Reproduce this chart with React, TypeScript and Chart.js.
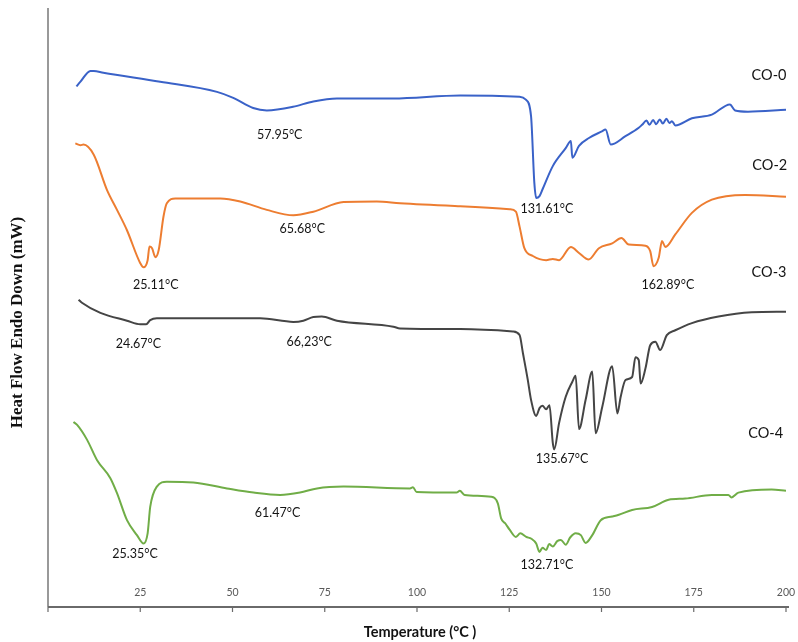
import React, { useEffect, useRef } from "react";
import { Chart, registerables } from "chart.js";

Chart.register(...registerables);

// Temperature (°C) / heat flow (arbitrary offset units)
const co0T = [7.7, 8.8, 11.5, 12.4, 15.0, 30.4, 45.8, 50.2, 55.6, 59.3, 66.4, 71.9, 78.3, 93.5, 111.7, 127.8, 129.5, 130.9, 131.8, 132.3, 133.2, 134.0, 136.8, 140.3, 141.7, 142.1, 143.9, 146.6, 150.1, 151.1, 152.5, 156.5, 160.1, 161.0, 162.2, 163.0, 164.0, 164.8, 165.8, 166.6, 167.6, 168.4, 169.1, 170.0, 174.5, 179.9, 184.8, 186.2, 189.7, 200];
const co0V = [86.9, 87.7, 89.5, 89.5, 89.2, 87.7, 86.0, 85.0, 83.3, 82.9, 83.5, 84.4, 84.9, 84.9, 85.4, 85.2, 84.7, 82.0, 70.8, 68.3, 68.6, 69.7, 73.6, 76.6, 77.8, 75.0, 77.0, 78.3, 79.4, 79.7, 77.2, 78.6, 80.0, 80.5, 81.2, 80.5, 81.3, 80.6, 81.4, 80.7, 81.5, 80.8, 81.1, 80.4, 81.6, 82.2, 83.9, 82.9, 82.7, 83.0];

const co2T = [7.4, 8.8, 9.6, 12.4, 16.0, 18.7, 21.4, 25.0, 25.9, 27.0, 27.5, 28.2, 29.1, 30.0, 31.3, 32.2, 34.5, 46.7, 52.1, 59.3, 66.5, 71.9, 80.1, 89.1, 95.4, 111.7, 125.1, 126.8, 127.8, 129.1, 131.4, 135.0, 136.8, 138.5, 141.7, 143.9, 146.5, 149.3, 152.9, 155.4, 157.4, 161.9, 163.2, 164.1, 165.5, 166.4, 167.3, 170.0, 174.5, 179.9, 188.9, 200];
const co2V = [77.4, 77.1, 77.2, 75.5, 69.6, 66.3, 62.9, 57.4, 56.7, 57.9, 60.2, 59.9, 58.4, 59.6, 65.2, 67.4, 68.2, 68.2, 67.7, 66.3, 65.4, 66.0, 67.6, 67.7, 67.4, 66.9, 66.4, 66.0, 63.5, 59.9, 58.6, 57.9, 58.1, 57.9, 60.1, 59.1, 58.0, 59.9, 60.7, 61.6, 60.5, 60.3, 59.4, 56.9, 58.3, 61.1, 60.1, 62.2, 65.8, 68.0, 68.8, 68.5];

const co3T = [8.3, 9.2, 14.2, 21.4, 25.0, 26.6, 27.7, 29.5, 57.5, 66.5, 69.2, 71.9, 74.2, 78.3, 93.6, 95.4, 111.7, 126.0, 127.8, 128.7, 130.0, 130.9, 132.3, 133.2, 134.0, 135.0, 135.9, 136.8, 137.2, 138.5, 140.3, 142.1, 143.0, 143.9, 145.7, 147.5, 148.4, 150.2, 152.9, 154.3, 155.2, 156.5, 158.3, 159.2, 160.1, 160.6, 161.9, 163.2, 164.6, 165.9, 167.7, 170.0, 174.5, 181.7, 190.7, 200];
const co3V = [51.3, 50.8, 49.1, 47.8, 47.2, 47.2, 47.9, 48.2, 48.2, 47.6, 47.8, 48.4, 48.5, 47.8, 46.8, 46.5, 46.4, 46.0, 45.4, 42.4, 38.0, 34.6, 31.9, 33.2, 33.6, 33.0, 33.7, 27.4, 26.3, 30.7, 35.1, 37.6, 38.6, 29.7, 34.6, 39.3, 29.0, 33.4, 40.2, 32.3, 35.1, 37.9, 38.4, 41.7, 41.2, 37.3, 39.8, 43.7, 44.3, 42.9, 45.4, 46.2, 47.4, 48.5, 49.2, 49.3];

const co4T = [6.9, 7.9, 10.6, 13.3, 16.9, 18.7, 21.4, 24.1, 25.9, 27.0, 27.7, 29.5, 32.2, 39.4, 48.5, 55.7, 62.9, 68.3, 72.9, 80.1, 98.1, 98.9, 99.9, 110.7, 111.6, 112.9, 120.1, 121.9, 122.8, 124.0, 125.1, 126.8, 128.0, 129.6, 131.0, 132.3, 133.2, 134.0, 135.0, 135.8, 136.8, 138.0, 139.0, 140.3, 141.5, 143.0, 144.4, 145.7, 147.5, 149.8, 152.9, 154.7, 158.3, 163.7, 168.2, 172.7, 179.9, 184.4, 185.2, 187.1, 196.1, 200];
const co4V = [30.9, 30.4, 27.9, 24.5, 21.5, 19.0, 14.5, 12.0, 10.6, 12.3, 16.7, 20.1, 20.9, 20.8, 19.8, 19.1, 18.7, 19.1, 19.8, 20.1, 19.8, 20.0, 19.2, 19.1, 19.4, 18.7, 18.4, 17.3, 14.8, 13.9, 12.9, 11.7, 12.3, 11.7, 11.4, 10.6, 9.2, 9.9, 9.5, 10.5, 10.1, 11.0, 11.2, 10.4, 11.6, 12.3, 12.0, 10.7, 12.0, 14.5, 15.1, 15.4, 16.2, 16.7, 17.9, 18.1, 18.7, 18.7, 18.3, 19.1, 19.6, 19.4];

const seriesNames = ["CO-0", "CO-2", "CO-3", "CO-4"];
const seriesColors = ["#3a62c8", "#ed7d31", "#454545", "#70ad47"];

const xTicks = [0, 25, 50, 75, 100, 125, 150, 175, 200];
const xTickLabels = ["", "25", "50", "75", "100", "125", "150", "175", "200"];

// annotation texts with their (temperature, value) anchors
const noteTexts = ["57.95°C", "131.61°C", "65.68°C", "25.11°C", "162.89°C", "24.67°C", "66,23°C", "135.67°C", "61.47°C", "25.35°C", "132.71°C"];
const noteT = [62.8, 135.2, 68.9, 29.2, 168.0, 24.5, 70.8, 139.3, 62.2, 23.6, 135.2];
const noteV = [78.8, 66.4, 63.1, 53.8, 53.8, 43.9, 44.2, 24.7, 15.7, 8.8, 7.0];
const nameT = [195.4, 195.6, 195.4, 194.5];
const nameV = [88.8, 73.8, 55.9, 29.0];

const xTitle = "Temperature (°C )";
const yTitle = "Heat Flow Endo Down (mW)";

const zip = (t: number[], v: number[]) => t.map((x, i) => ({ x, y: v[i] }));

export default function App() {
  const ref = useRef<HTMLCanvasElement | null>(null);

  useEffect(() => {
    document.body.style.margin = "0";
    const canvas = ref.current;
    if (!canvas) return;

    const decor = {
      id: "decor",
      afterDraw(chart: any) {
        const { ctx, chartArea, scales } = chart;
        const xs = scales.x;
        const ys = scales.y;
        ctx.save();
        // y axis line
        ctx.strokeStyle = "#555";
        ctx.lineWidth = 1.2;
        ctx.beginPath();
        ctx.moveTo(chartArea.left, chartArea.top);
        ctx.lineTo(chartArea.left, chartArea.bottom);
        ctx.stroke();
        // x axis line
        ctx.strokeStyle = "#6a6a6a";
        ctx.lineWidth = 2;
        ctx.beginPath();
        ctx.moveTo(chartArea.left, chartArea.bottom);
        ctx.lineTo(chartArea.right + 3, chartArea.bottom);
        ctx.stroke();
        ctx.lineWidth = 1.2;
        xTicks.forEach((t, i) => {
          const px = xs.getPixelForValue(t);
          ctx.beginPath();
          ctx.moveTo(px, chartArea.bottom);
          ctx.lineTo(px, chartArea.bottom + 5);
          ctx.stroke();
          ctx.fillStyle = "#595959";
          ctx.font = "10.5px Lato, 'Liberation Sans', sans-serif";
          ctx.textAlign = "center";
          ctx.textBaseline = "middle";
          ctx.fillText(xTickLabels[i], px, chartArea.bottom - 14);
        });
        // x title
        ctx.fillStyle = "#111";
        ctx.font = "bold 14.5px Lato, 'Liberation Sans', sans-serif";
        ctx.textAlign = "center";
        ctx.textBaseline = "middle";
        ctx.fillText(xTitle, (chartArea.left + chartArea.right) / 2 + 3, chartArea.bottom + 25);
        // y title
        ctx.save();
        ctx.translate(18, (chartArea.top + chartArea.bottom) / 2 + 15);
        ctx.rotate(-Math.PI / 2);
        ctx.font = "bold 17px 'Liberation Serif', 'DejaVu Serif', serif";
        ctx.fillStyle = "#111";
        ctx.fillText(yTitle, 0, 0);
        ctx.restore();
        // peak notes
        ctx.fillStyle = "#141414";
        ctx.font = "12.5px Lato, 'Liberation Sans', sans-serif";
        noteTexts.forEach((s, i) => {
          ctx.fillText(s, xs.getPixelForValue(noteT[i]), ys.getPixelForValue(noteV[i]));
        });
        ctx.font = "14.5px Lato, 'Liberation Sans', sans-serif";
        seriesNames.forEach((s, i) => {
          ctx.fillText(s, xs.getPixelForValue(nameT[i]), ys.getPixelForValue(nameV[i]));
        });
        ctx.restore();
      },
    };

    const allT = [co0T, co2T, co3T, co4T];
    const allV = [co0V, co2V, co3V, co4V];

    const chart = new Chart(canvas, {
      type: "line",
      data: {
        datasets: seriesNames.map((name, i) => ({
          label: name,
          data: zip(allT[i], allV[i]),
          borderColor: seriesColors[i],
          backgroundColor: seriesColors[i],
          borderWidth: 2,
          pointRadius: 0,
          cubicInterpolationMode: "monotone" as const,
          fill: false,
        })),
      },
      options: {
        responsive: false,
        animation: false,
        layout: { padding: { left: 48, right: 12, top: 8, bottom: 35 } },
        plugins: { legend: { display: false }, tooltip: { enabled: false } },
        scales: {
          x: { type: "linear", min: 0, max: 200, display: false },
          y: { type: "linear", min: 0, max: 100, display: false },
        },
      },
      plugins: [decor],
    });
    return () => chart.destroy();
  }, []);

  return (
    <div style={{ width: 798, height: 642 }}>
      <canvas ref={ref} width={798} height={642} style={{ display: "block" }} />
    </div>
  );
}
